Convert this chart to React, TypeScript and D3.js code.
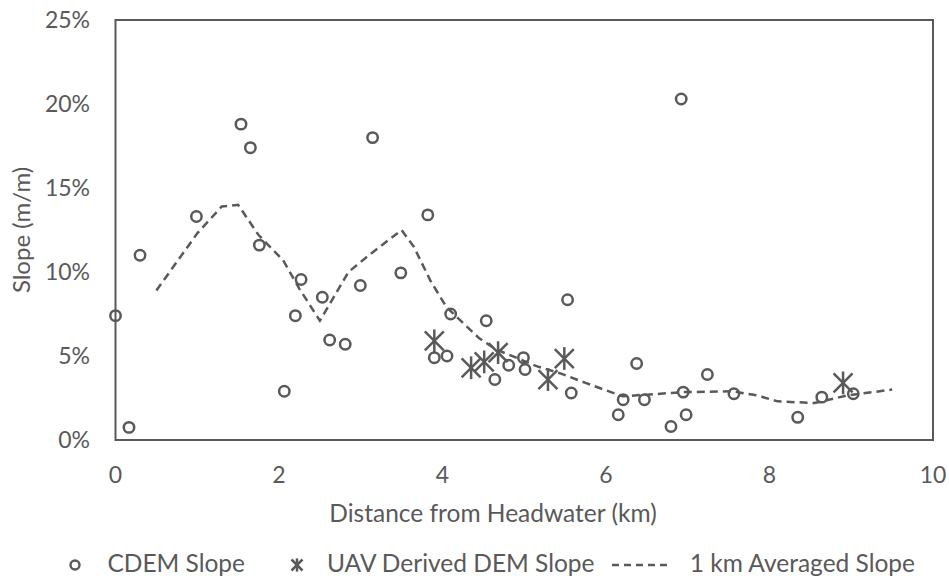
import * as d3 from "d3";

// CDEM slope samples (km, slope fraction)
const cdemKm = [0, 0.165, 0.3, 0.99, 1.535, 1.65, 1.76, 2.065, 2.2, 2.27, 2.53, 2.62, 2.81, 2.995, 3.145, 3.49, 3.82, 3.9, 4.055, 4.1, 4.535, 4.64, 4.81, 4.99, 5.01, 5.53, 5.575, 6.15, 6.21, 6.375, 6.47, 6.795, 6.92, 6.945, 6.98, 7.24, 7.565, 8.345, 8.64, 9.025];
const cdemSlope = [0.074, 0.0075, 0.11, 0.133, 0.188, 0.174, 0.116, 0.029, 0.074, 0.0955, 0.085, 0.0595, 0.057, 0.092, 0.18, 0.0995, 0.134, 0.049, 0.05, 0.075, 0.071, 0.036, 0.0445, 0.049, 0.042, 0.0835, 0.028, 0.015, 0.024, 0.0455, 0.024, 0.008, 0.203, 0.0285, 0.015, 0.039, 0.0275, 0.0135, 0.0255, 0.0275];

// UAV derived DEM slope
const uavKm = [3.9, 4.35, 4.51, 4.68, 5.29, 5.49, 8.9];
const uavSlope = [0.059, 0.043, 0.0465, 0.052, 0.036, 0.0485, 0.034];

// 1 km averaged slope
const avgKm = [0.5, 1.0, 1.3, 1.5, 1.75, 2.05, 2.25, 2.5, 2.85, 3.1, 3.5, 3.65, 3.85, 4.05, 4.45, 4.65, 5.15, 5.45, 5.75, 6.2, 6.5, 6.95, 7.55, 7.85, 8.1, 8.55, 8.95, 9.5];
const avgSlope = [0.089, 0.123, 0.139, 0.14, 0.122, 0.107, 0.09, 0.071, 0.1, 0.11, 0.125, 0.115, 0.095, 0.079, 0.0605, 0.054, 0.044, 0.0395, 0.034, 0.026, 0.027, 0.0285, 0.029, 0.0265, 0.023, 0.022, 0.0265, 0.03];

const xTicks = [0, 2, 4, 6, 8, 10];
const yTicks = [0, 0.05, 0.1, 0.15, 0.2, 0.25];

const W = 949;
const H = 578;
const GREY = "#595959";
const FONT = "Lato, 'Open Sans', sans-serif";

const Star = ({ x, y, s }: { x: number; y: number; s: number }) => (
  <g stroke={GREY} strokeWidth={2.5} fill="none">
    <line x1={x - s} y1={y - s} x2={x + s} y2={y + s} />
    <line x1={x - s} y1={y + s} x2={x + s} y2={y - s} />
    <line x1={x} y1={y - s * 1.2} x2={x} y2={y + s * 1.2} />
  </g>
);

export default function App() {
  const x = d3.scaleLinear().domain([0, 10]).range([115.5, 933]);
  const y = d3.scaleLinear().domain([0, 0.25]).range([440, 20]);
  const pct = d3.format(".0%");

  const avgLine = d3
    .line<number>()
    .x((d, i) => x(avgKm[i]))
    .y((d) => y(d));

  return (
    <div style={{ position: "absolute", left: 0, top: 0 }}>
      <svg width={W} height={H} style={{ display: "block", background: "#fff" }}>
        <rect
          x={x(0)}
          y={y(0.25)}
          width={x(10) - x(0)}
          height={y(0) - y(0.25)}
          fill="none"
          stroke={GREY}
          strokeWidth={2}
        />

        {yTicks.map((t) => (
          <text key={t} x={90} y={y(t) + 8} textAnchor="end" fontFamily={FONT} fontSize={23} fill={GREY}>
            {pct(t)}
          </text>
        ))}
        {xTicks.map((t) => (
          <text key={t} x={x(t)} y={483} textAnchor="middle" fontFamily={FONT} fontSize={23} fill={GREY}>
            {t}
          </text>
        ))}

        <text x={493} y={522} textAnchor="middle" fontFamily={FONT} fontSize={24.5} fill={GREY}>
          Distance from Headwater (km)
        </text>
        <text
          transform={`translate(30,${(y(0) + y(0.25)) / 2}) rotate(-90)`}
          textAnchor="middle"
          fontFamily={FONT}
          fontSize={24}
          fill={GREY}
        >
          Slope (m/m)
        </text>

        <path
          d={avgLine(avgSlope) || ""}
          fill="none"
          stroke={GREY}
          strokeWidth={2.5}
          strokeDasharray="8,5"
        />

        {cdemSlope.map((v, i) => (
          <circle key={i} cx={x(cdemKm[i])} cy={y(v)} r={5.2} fill="none" stroke={GREY} strokeWidth={2.5} />
        ))}

        {uavSlope.map((v, i) => (
          <Star key={i} x={x(uavKm[i])} y={y(v)} s={9.5} />
        ))}

        {/* legend */}
        <g fontFamily={FONT} fontSize={24.5} fill={GREY}>
          <circle cx={75} cy={565} r={4.5} fill="none" stroke={GREY} strokeWidth={2.4} />
          <text x={245} y={572} textAnchor="end">CDEM Slope</text>
          <Star x={297} y={565} s={5.5} />
          <text x={327} y={572}>UAV Derived DEM Slope</text>
          <line x1={612} y1={565} x2={668} y2={565} stroke={GREY} strokeWidth={2.5} strokeDasharray="7,5" />
          <text x={915} y={572} textAnchor="end">1 km Averaged Slope</text>
        </g>
      </svg>
    </div>
  );
}
